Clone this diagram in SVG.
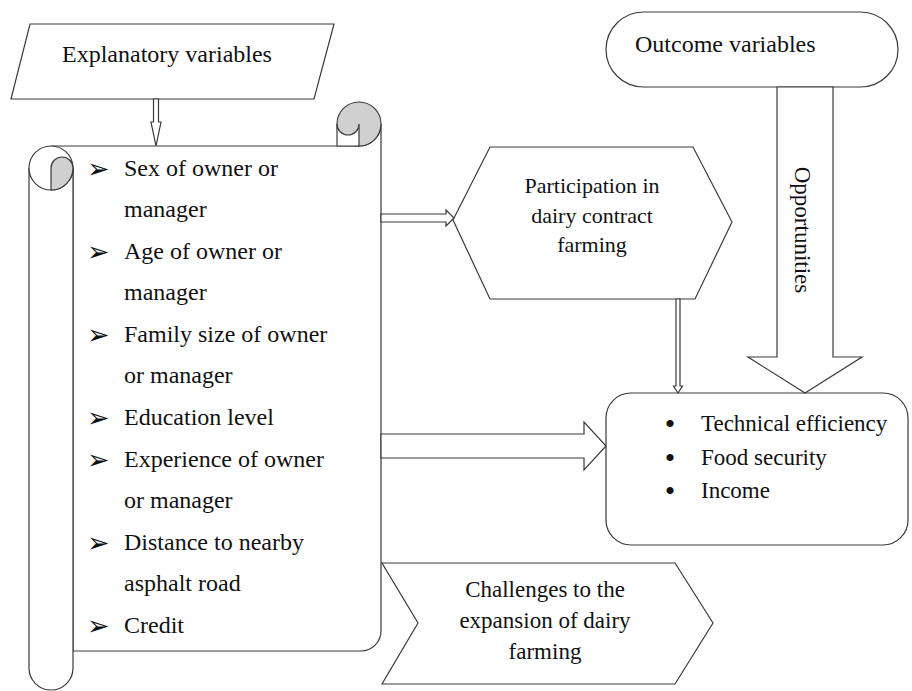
<svg xmlns="http://www.w3.org/2000/svg" width="912" height="691" viewBox="0 0 912 691">
<style>
.ln{fill:#fff;stroke:#3a3a3a;stroke-width:1.2;stroke-linejoin:miter}
.gr{fill:#d0d0d0;stroke:#3a3a3a;stroke-width:1.2}
.t{font-family:"Liberation Serif","Times New Roman",serif;fill:#111;font-size:24px}
.b{font-family:"DejaVu Sans",sans-serif;fill:#111;font-size:27px}
</style>
<rect width="912" height="691" fill="#fff"/>
<g id="explanatory">
<polygon class="ln" points="30,24 334,24 314,99 11,99"/>
<text class="t" x="167" y="62" text-anchor="middle">Explanatory variables</text>
</g>
<g id="outcome">
<rect class="ln" x="606" y="12" width="292" height="75" rx="37.5" ry="37.5"/>
<text class="t" x="635" y="52">Outcome variables</text>
</g>
<g id="scroll">
<path class="ln" d="M51,146 H359 A22,22 0 0 0 381,124 V631 A20,20 0 0 1 361,651 H73 V168"/>
<circle class="gr" cx="359" cy="124" r="22"/>
<path class="ln" d="M337,124 A11,11 0 0 0 359,124 V146 H337 Z"/>
<path class="ln" d="M29,168 V668 A22,22 0 0 0 73,668 V168"/>
<circle class="ln" cx="51" cy="168" r="22"/>
<path class="gr" d="M51,190 V168 A11,11 0 0 1 73,168 A22,22 0 0 1 51,190 Z"/>
<g class="b">
<text x="87" y="178">➢</text>
<text x="87" y="261">➢</text>
<text x="87" y="344">➢</text>
<text x="87" y="427">➢</text>
<text x="87" y="469">➢</text>
<text x="87" y="552">➢</text>
<text x="87" y="635">➢</text>
</g>
<g class="t">
<text x="124" y="176">Sex of  owner or</text>
<text x="124" y="217">manager</text>
<text x="124" y="259">Age of owner or</text>
<text x="124" y="300">manager</text>
<text x="124" y="342">Family size of owner</text>
<text x="124" y="383">or manager</text>
<text x="124" y="425">Education level</text>
<text x="124" y="467">Experience of owner</text>
<text x="124" y="508">or manager</text>
<text x="124" y="550">Distance to nearby</text>
<text x="124" y="591">asphalt road</text>
<text x="124" y="633">Credit</text>
</g>
</g>
<g id="participation">
<polygon class="ln" points="453,220 490,147 693,147 732,222 695,299 490,299"/>
<g class="t" style="font-size:22px" text-anchor="middle">
<text x="592" y="193">Participation in</text>
<text x="592" y="223">dairy contract</text>
<text x="592" y="252">farming</text>
</g>
</g>
<g id="results">
<rect class="ln" x="606" y="393" width="302" height="152" rx="25" ry="25"/>
<g class="t" style="font-size:30px" text-anchor="middle">
<text x="670" y="434">•</text>
<text x="670" y="468">•</text>
<text x="670" y="501">•</text>
</g>
<g class="t" style="font-size:23px">
<text x="701" y="431">Technical efficiency</text>
<text x="701" y="465">Food security</text>
<text x="701" y="498">Income</text>
</g>
</g>
<g id="challenges">
<polygon class="ln" points="382,563 675,563 713,623 675,684 382,684 418,623"/>
<g class="t" style="font-size:23px" text-anchor="middle">
<text x="545" y="597">Challenges to the</text>
<text x="545" y="628">expansion of dairy</text>
<text x="545" y="659">farming</text>
</g>
</g>
<g id="connectors">
<polygon class="ln" points="153.5,99 158.5,99 158.5,122 161,122 156,146 151,122 153.5,122"/>
<polygon class="ln" points="381,214 446,214 446,210 454,218 446,226 446,222 381,222"/>
<polygon class="ln" points="676,299 680,299 680,386 682.5,386 678,393 673.5,386 676,386"/>
<polygon class="ln" points="381,434 584,434 584,422 606,446 584,470 584,458 381,458"/>
<polygon class="ln" points="777,87 833,87 833,357 862,357 805,393 748,357 777,357"/>
<text class="t" style="font-size:23px" text-anchor="middle" transform="translate(795,230) rotate(90)">Opportunities</text>
</g>
</svg>
